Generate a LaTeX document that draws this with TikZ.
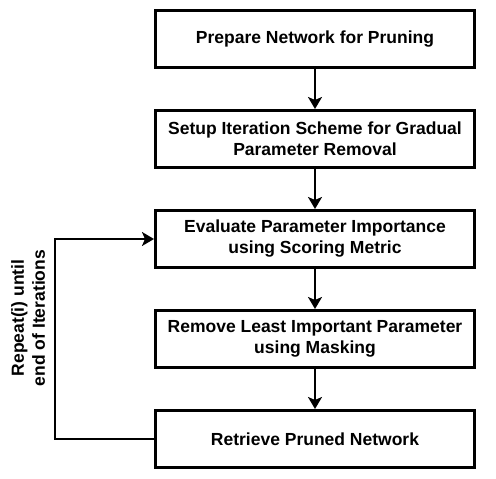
\documentclass[tikz,border=0pt]{standalone}
\usepackage{fontspec}
\setmainfont{Liberation Sans}
\usetikzlibrary{arrows.meta}
\begin{document}
\begin{tikzpicture}[x=1pt,y=-1pt,
  stepbox/.style={draw,line width=3pt,minimum width=319pt,minimum height=57pt,
    inner sep=0pt,align=center,font=\fontsize{17.5}{21}\selectfont\bfseries},
  flow/.style={line width=2pt,-{Stealth[length=12pt,width=14pt,inset=3pt]}}]
\useasboundingbox (0,0) rectangle (496,479);
\node[stepbox] (prep) at (315,39) {Prepare Network for Pruning};
\node[stepbox] (setup) at (315,139) {Setup Iteration Scheme for Gradual\\Parameter Removal};
\node[stepbox] (eval) at (315,239) {Evaluate Parameter Importance\\using Scoring Metric};
\node[stepbox] (remove) at (315,339) {Remove Least Important Parameter\\using Masking};
\node[stepbox] (ret) at (315,439) {Retrieve Pruned Network};
\draw[flow] (prep) -- (setup);
\draw[flow] (setup) -- (eval);
\draw[flow] (eval) -- (remove);
\draw[flow] (remove) -- (ret);
% loop back
\coordinate (loopb) at (55,439);
\coordinate (loopt) at (55,239);
\draw[flow] (ret.west) -- (loopb) -- (loopt) -- (eval.west);
\node[rotate=90,align=center,font=\fontsize{17.5}{21}\selectfont\bfseries] (rep) at (28,318) {Repeat(i) until\\end of Iterations};
\end{tikzpicture}
\end{document}
